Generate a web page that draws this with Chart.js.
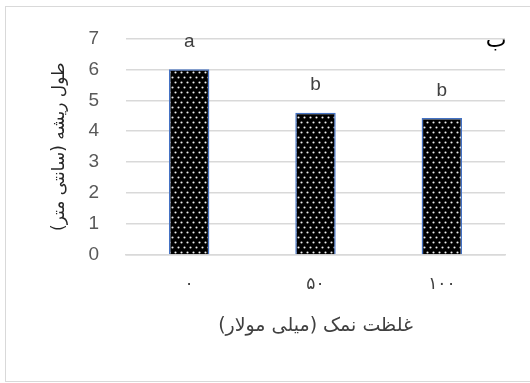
<!DOCTYPE html>
<html>
<head>
<meta charset="utf-8">
<script src="https://cdn.jsdelivr.net/npm/chart.js@4.4.0/dist/chart.umd.min.js"></script>
<style>
  html, body { margin: 0; padding: 0; background: #fff; overflow: hidden; }
  #frame { position: absolute; left: 5px; top: 6px; width: 560px; height: 374px; border: 1.5px solid #d9d9d9; }
  #wrap { position: absolute; left: 0; top: 0; width: 530px; height: 383px; }
</style>
</head>
<body>
<div id="frame"></div>
<div id="wrap"><canvas id="rootChart" dir="rtl"></canvas></div>
<script>
// salt levels (mM) and root length (cm)
var salinity = ['۰', '۵۰', '۱۰۰'];
var rootLength = [6.0, 4.6, 4.43];
var groupLetters = ['a', 'b', 'b'];
var yTicks = [0, 1, 2, 3, 4, 5, 6, 7];

var arabicFont = '"DejaVu Sans", sans-serif';
var latinFont = '"Liberation Sans", Arial, sans-serif';

// black fill with a grid of white dots
function dotPattern() {
  var c = document.createElement('canvas');
  c.width = 6; c.height = 10;
  var g = c.getContext('2d');
  g.fillStyle = '#000';
  g.fillRect(0, 0, 6, 10);
  g.fillStyle = '#f0f0f0';
  g.beginPath(); g.arc(1.5, 2.5, 1.05, 0, Math.PI * 2); g.fill();
  g.beginPath(); g.arc(4.5, 7.5, 1.05, 0, Math.PI * 2); g.fill();
  return g.createPattern(c, 'repeat');
}

var ctx = document.getElementById('rootChart').getContext('2d');

var letterPlugin = {
  id: 'letters',
  afterDatasetsDraw: function (chart) {
    var c = chart.ctx;
    var bars = chart.getDatasetMeta(0).data;
    c.save();
    c.font = '19px ' + latinFont;
    c.fillStyle = '#404040';
    c.textAlign = 'center';
    c.textBaseline = 'bottom';
    bars.forEach(function (bar, i) {
      c.fillText(groupLetters[i], bar.x, bar.y - 18);
    });
    // panel mark in the corner
    c.font = '22px ' + arabicFont;
    c.fillStyle = '#000';
    c.fillText('ب', 496, 52);
    c.restore();
  }
};

new Chart(ctx, {
  type: 'bar',
  data: {
    labels: salinity,
    datasets: [{
      data: rootLength,
      backgroundColor: dotPattern(),
      borderColor: '#4472c4',
      borderWidth: 1.5,
      categoryPercentage: 1,
      barPercentage: 0.32
    }]
  },
  options: {
    responsive: true,
    maintainAspectRatio: false,
    animation: false,
    layout: { padding: { top: 34, right: 25, left: 0, bottom: 0 } },
    plugins: { legend: { display: false }, tooltip: { enabled: false } },
    scales: {
      x: {
        grid: { display: false, drawTicks: false },
        border: { color: '#d9d9d9', width: 1.5 },
        ticks: { color: '#404040', font: { family: arabicFont, size: 17 }, padding: 19 },
        title: {
          display: true,
          text: 'غلظت نمک (میلی مولار)',
          color: '#404040',
          font: { family: arabicFont, size: 19 },
          padding: { top: 0, bottom: 46 }
        },
        afterFit: function (s) { s.height = 128; }
      },
      y: {
        min: 0,
        max: 7,
        afterBuildTicks: function (s) { s.ticks = yTicks.map(function (v) { return { value: v }; }); },
        grid: { color: '#d9d9d9', lineWidth: 1.5, drawTicks: false },
        border: { display: false },
        ticks: { color: '#595959', font: { family: latinFont, size: 19 }, padding: 27 },
        title: {
          display: true,
          text: 'طول ریشه (سانتی متر)',
          color: '#262626',
          font: { family: arabicFont, size: 17 },
          padding: { top: 49, bottom: 0 }
        },
        afterFit: function (s) { s.width = 126; }
      }
    }
  },
  plugins: [letterPlugin]
});
</script>
</body>
</html>
